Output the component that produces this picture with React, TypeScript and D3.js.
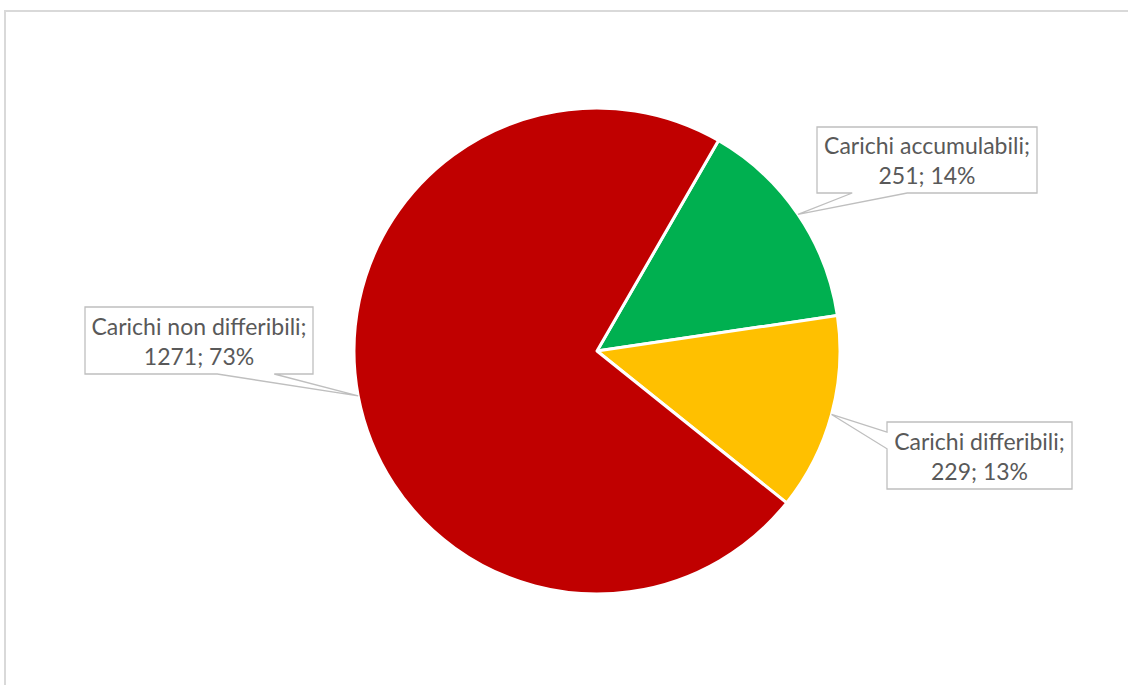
import React from "react";
import * as d3 from "d3";

const categories = ["Carichi accumulabili", "Carichi differibili", "Carichi non differibili"];
const values = [251, 229, 1271];
const colors = ["#00B050", "#FFC000", "#C00000"];
// label box layout (center offsets relative to chart center), width, height
const boxCenters: [number, number][] = [[330, -191], [382.5, 104.5], [-398, -10.5]];
const boxSizes: [number, number][] = [[220, 66], [185, 67], [228, 67]];

const W = 1128, H = 685;
const cx = 597, cy = 351, R = 243;

export default function App() {
  const total = d3.sum(values);
  const pie = d3.pie<number>().sort(null).value(d => d).startAngle(30 * Math.PI / 180).endAngle(30 * Math.PI / 180 + 2 * Math.PI);
  const arcs = pie(values);
  const arc = d3.arc<d3.PieArcDatum<number>>().innerRadius(0).outerRadius(R);
  const pct = (v: number) => Math.round((v / total) * 100) + "%";

  return (
    <svg width={W} height={H} style={{ position: "absolute", left: 0, top: 0, background: "#fff" }}>
      <rect x={5} y={11} width={1200} height={800} fill="#fff" stroke="#d9d9d9" strokeWidth={2} />
      <g transform={`translate(${cx},${cy})`}>
        {arcs.map((a, i) => (
          <path key={i} d={arc(a) || ""} fill={colors[i]} stroke="#fff" strokeWidth={3} strokeLinejoin="round" />
        ))}
        {arcs.map((a, i) => {
          const mid = (a.startAngle + a.endAngle) / 2;
          const tx = R * Math.sin(mid), ty = -R * Math.cos(mid);
          const [bcx, bcy] = boxCenters[i];
          const [bw, bh] = boxSizes[i];
          const x0 = bcx - bw / 2, x1 = bcx + bw / 2, y0 = bcy - bh / 2, y1 = bcy + bh / 2;
          let path = "";
          if (ty > y1) {
            const a0 = i === 0 ? x0 + bw * 0.16 : x0 + bw * 0.58;
            const a1 = i === 0 ? x0 + bw * 0.41 : x0 + bw * 0.83;
            path = `M${x0},${y0}H${x1}V${y1}H${a1}L${tx},${ty}L${a0},${y1}H${x0}Z`;
          } else if (tx < x0) {
            const a0 = y0 + bh * 0.15, a1 = y0 + bh * 0.4;
            path = `M${x0},${y0}H${x1}V${y1}H${x0}V${a1}L${tx},${ty}L${x0},${a0}Z`;
          } else {
            path = `M${x0},${y0}H${x1}V${y1}H${x0}Z`;
          }
          return (
            <g key={"l" + i}>
              <path d={path} fill="#fff" stroke="#bfbfbf" strokeWidth={1.3} />
              <text x={bcx} textAnchor="middle" fontFamily="Lato, 'Open Sans', sans-serif" fontSize={23} fill="#595959">
                <tspan x={bcx} y={bcy - 6}>{categories[i] + ";"}</tspan>
                <tspan x={bcx} y={bcy + 24}>{values[i] + "; " + pct(values[i])}</tspan>
              </text>
            </g>
          );
        })}
      </g>
    </svg>
  );
}
